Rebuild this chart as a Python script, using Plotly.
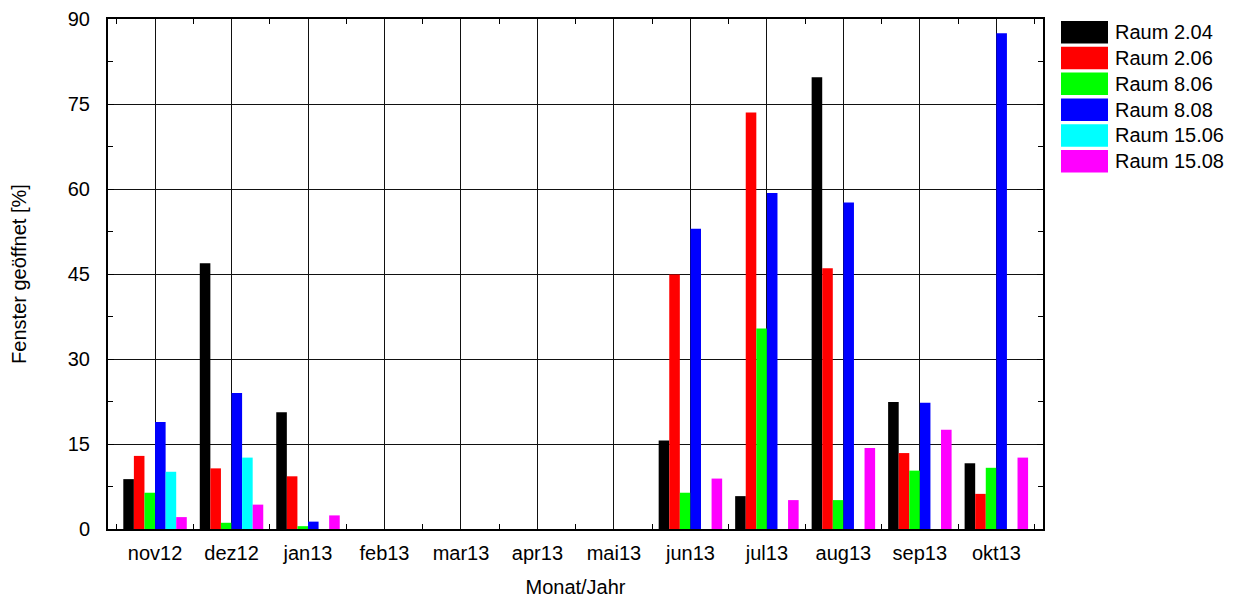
import plotly.graph_objects as go

months = ["nov12", "dez12", "jan13", "feb13", "mar13", "apr13", "mai13",
          "jun13", "jul13", "aug13", "sep13", "okt13"]

names = ["Raum 2.04", "Raum 2.06", "Raum 8.06", "Raum 8.08", "Raum 15.06", "Raum 15.08"]
colors = ["#000000", "#ff0000", "#00ff00", "#0000ff", "#00ffff", "#ff00ff"]

raum_2_04 = [8.8, 46.9, 20.6, 0, 0, 0, 0, 15.6, 5.8, 79.7, 22.4, 11.6]
raum_2_06 = [12.9, 10.7, 9.3, 0, 0, 0, 0, 44.9, 73.5, 46.0, 13.4, 6.2]
raum_8_06 = [6.4, 1.1, 0.5, 0, 0, 0, 0, 6.4, 35.4, 5.1, 10.3, 10.8]
raum_8_08 = [18.9, 24.0, 1.3, 0, 0, 0, 0, 53.0, 59.3, 57.6, 22.3, 87.5]
raum_15_06 = [10.1, 12.6, 0, 0, 0, 0, 0, 0, 0, 0, 0, 0]
raum_15_08 = [2.1, 4.3, 2.4, 0, 0, 0, 0, 8.9, 5.1, 14.3, 17.5, 12.6]

series = [raum_2_04, raum_2_06, raum_8_06, raum_8_08, raum_15_06, raum_15_08]

FONT = "Liberation Sans, Arial, sans-serif"
FS = 20

xpos = list(range(len(months)))

fig = go.Figure()
for name, col, vals in zip(names, colors, series):
    fig.add_trace(go.Bar(x=xpos, y=vals, name=name, marker=dict(color=col, line=dict(width=0)),
                         showlegend=False))

# page offset of the figure (body margin)
OFF = 8
# plot area in page pixels
L, R, T, B = 108, 1043, 19, 529
W, H = R - L, B - T
def px_x(p):
    return (p - L) / W
def px_y(p):
    return (B - p) / H

shapes = []
annotations = []
for i, (name, col) in enumerate(zip(names, colors)):
    y0 = 21 + 25.8 * i
    y1 = y0 + 22.5
    shapes.append(dict(type="rect", xref="paper", yref="paper",
                       x0=px_x(1061), x1=px_x(1108), y0=px_y(y1), y1=px_y(y0),
                       fillcolor=col, line=dict(width=0)))
    annotations.append(dict(xref="paper", yref="paper", x=px_x(1113), y=px_y((y0 + y1) / 2),
                            text=name, showarrow=False, xanchor="left", yanchor="middle",
                            font=dict(family=FONT, size=FS, color="black")))

FW, FH = 1240 - OFF, 598 - OFF
fig.update_layout(
    width=FW, height=FH,
    margin=dict(l=L - OFF, r=FW - (R - OFF), t=T - OFF, b=FH - (B - OFF), autoexpand=False),
    paper_bgcolor="white", plot_bgcolor="white",
    barmode="group", bargap=0.17, bargroupgap=0,
    font=dict(family=FONT, size=FS, color="black"),
    shapes=shapes, annotations=annotations,
    showlegend=False,
)

fig.update_xaxes(
    range=[-0.615, 11.61],
    tickmode="array", tickvals=xpos, ticktext=months,
    ticks="", showgrid=True, gridcolor="#111111", gridwidth=1,
    showline=True, linecolor="black", linewidth=2, mirror="allticks",
    minor=dict(ticks="inside", tickmode="linear", tick0=0.5, dtick=1, ticklen=5,
               tickcolor="black", showgrid=False),
    ticklabelstandoff=5,
    tickfont=dict(family=FONT, size=FS),
    title=dict(text="Monat/Jahr", font=dict(family=FONT, size=FS), standoff=25),
    zeroline=False,
)
fig.update_yaxes(
    range=[0, 90], tickmode="linear", tick0=0, dtick=15,
    ticks="inside", ticklen=6, tickcolor="black",
    showgrid=True, gridcolor="#111111", gridwidth=1,
    showline=True, linecolor="black", linewidth=2, mirror="allticks",
    minor=dict(ticks="inside", tickmode="linear", tick0=0, dtick=7.5, ticklen=5,
               tickcolor="black", showgrid=False),
    ticklabelstandoff=12,
    tickfont=dict(family=FONT, size=FS),
    title=dict(text="Fenster geöffnet [%]", font=dict(family=FONT, size=FS), standoff=36),
    zeroline=False,
)

fig.write_html("out.html")
